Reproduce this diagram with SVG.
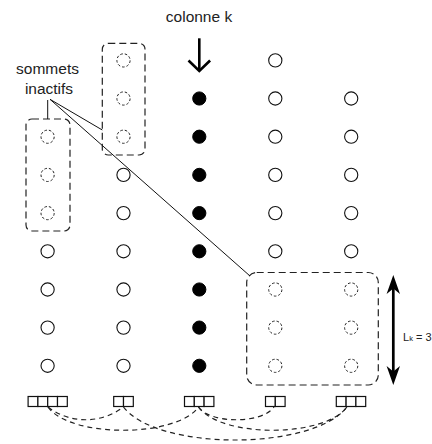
<svg xmlns="http://www.w3.org/2000/svg" width="432" height="444" viewBox="0 0 432 444">
<style>
text{font-family:"Liberation Sans",Arial,sans-serif;fill:#222}
.lbl{font-size:15.5px;text-anchor:middle}
.v{fill:#fff;stroke:#111;stroke-width:1.1}
.a{fill:#000;stroke:#000;stroke-width:1}
.i{fill:none;stroke:#222;stroke-width:1;stroke-dasharray:2.6 2}
.box{fill:none;stroke:#222;stroke-width:1.2;stroke-dasharray:7 4}
.cell{fill:#fff;stroke:#111;stroke-width:1.2}
.arc{fill:none;stroke:#222;stroke-width:1.2;stroke-dasharray:5 4}
.lead{fill:none;stroke:#111;stroke-width:1}
</style>
<defs>
<circle id="cv" r="6.6"/>
</defs>
<g id="labels">
<text class="lbl" x="199" y="21.7">colonne k</text>
<text class="lbl" x="47.5" y="74">sommets</text>
<text class="lbl" x="49" y="94">inactifs</text>
<text x="403" y="340.5" style="font-size:11px">L<tspan style="font-size:7.5px">k</tspan> = 3</text>
</g>
<g id="arrow-colonne-k" fill="none" stroke="#000" stroke-width="2.6">
<line x1="199.3" y1="38.3" x2="199.3" y2="70"/>
<polyline points="188.5,60.5 199.3,71 210.1,60.5"/>
</g>
<g id="arrow-Lk">
<line x1="393.3" y1="286" x2="393.3" y2="374" stroke="#000" stroke-width="2.7"/>
<polygon points="393.3,275 400,294 393.3,288.5 386.6,294" fill="#000"/>
<polygon points="393.3,385 400,366 393.3,371.5 386.6,366" fill="#000"/>
</g>
<g id="boxes">
<rect id="box-col2" class="box" x="102.3" y="43.3" width="42.7" height="111.7" rx="6"/>
<rect id="box-col1" class="box" x="26" y="119" width="44" height="112" rx="6"/>
<rect id="box-right" class="box" x="246.7" y="272.5" width="131.6" height="112.5" rx="10"/>
</g>
<g id="connectors">
<line class="lead" x1="50" y1="99.3" x2="102.3" y2="130"/>
<line class="lead" x1="50" y1="99.3" x2="250" y2="276"/>
<line class="lead" x1="47.7" y1="100" x2="47.7" y2="119"/>
<path class="arc" d="M48,407 C70,424 101,424 123.5,407"/>
<path class="arc" d="M48,407 C70,438 176,438 198.5,407"/>
<path class="arc" d="M123.5,407 C157,451 313,451 347,407"/>
<path class="arc" d="M198.5,407 C210,424 262,424 274,407"/>
<path class="arc" d="M198.5,407 C221,438 324,438 347,407"/>
</g>
<g id="col1">
<g id="c1r3"><use href="#cv" class="i" x="47.6" y="136.7"/></g>
<g id="c1r4"><use href="#cv" class="i" x="47.6" y="174.9"/></g>
<g id="c1r5"><use href="#cv" class="i" x="47.6" y="213.1"/></g>
<g id="c1r6"><use href="#cv" class="v" x="47.6" y="251.3"/></g>
<g id="c1r7"><use href="#cv" class="v" x="47.6" y="289.5"/></g>
<g id="c1r8"><use href="#cv" class="v" x="47.6" y="327.6"/></g>
<g id="c1r9"><use href="#cv" class="v" x="47.6" y="365.8"/></g>
</g>
<g id="col2">
<g id="c2r1"><use href="#cv" class="i" x="123.5" y="60.4"/></g>
<g id="c2r2"><use href="#cv" class="i" x="123.5" y="98.5"/></g>
<g id="c2r3"><use href="#cv" class="i" x="123.5" y="136.7"/></g>
<g id="c2r4"><use href="#cv" class="v" x="123.5" y="174.9"/></g>
<g id="c2r5"><use href="#cv" class="v" x="123.5" y="213.1"/></g>
<g id="c2r6"><use href="#cv" class="v" x="123.5" y="251.3"/></g>
<g id="c2r7"><use href="#cv" class="v" x="123.5" y="289.5"/></g>
<g id="c2r8"><use href="#cv" class="v" x="123.5" y="327.6"/></g>
<g id="c2r9"><use href="#cv" class="v" x="123.5" y="365.8"/></g>
</g>
<g id="col3">
<g id="c3r2"><use href="#cv" class="a" x="199.3" y="98.5"/></g>
<g id="c3r3"><use href="#cv" class="a" x="199.3" y="136.7"/></g>
<g id="c3r4"><use href="#cv" class="a" x="199.3" y="174.9"/></g>
<g id="c3r5"><use href="#cv" class="a" x="199.3" y="213.1"/></g>
<g id="c3r6"><use href="#cv" class="a" x="199.3" y="251.3"/></g>
<g id="c3r7"><use href="#cv" class="a" x="199.3" y="289.5"/></g>
<g id="c3r8"><use href="#cv" class="a" x="199.3" y="327.6"/></g>
<g id="c3r9"><use href="#cv" class="a" x="199.3" y="365.8"/></g>
</g>
<g id="col4">
<g id="c4r1"><use href="#cv" class="v" x="275.3" y="60.4"/></g>
<g id="c4r2"><use href="#cv" class="v" x="275.3" y="98.5"/></g>
<g id="c4r3"><use href="#cv" class="v" x="275.3" y="136.7"/></g>
<g id="c4r4"><use href="#cv" class="v" x="275.3" y="174.9"/></g>
<g id="c4r5"><use href="#cv" class="v" x="275.3" y="213.1"/></g>
<g id="c4r6"><use href="#cv" class="v" x="275.3" y="251.3"/></g>
<g id="c4r7"><use href="#cv" class="i" x="275.3" y="289.5"/></g>
<g id="c4r8"><use href="#cv" class="i" x="275.3" y="327.6"/></g>
<g id="c4r9"><use href="#cv" class="i" x="275.3" y="365.8"/></g>
</g>
<g id="col5">
<g id="c5r2"><use href="#cv" class="v" x="351.2" y="98.5"/></g>
<g id="c5r3"><use href="#cv" class="v" x="351.2" y="136.7"/></g>
<g id="c5r4"><use href="#cv" class="v" x="351.2" y="174.9"/></g>
<g id="c5r5"><use href="#cv" class="v" x="351.2" y="213.1"/></g>
<g id="c5r6"><use href="#cv" class="v" x="351.2" y="251.3"/></g>
<g id="c5r7"><use href="#cv" class="i" x="351.2" y="289.5"/></g>
<g id="c5r8"><use href="#cv" class="i" x="351.2" y="327.6"/></g>
<g id="c5r9"><use href="#cv" class="i" x="351.2" y="365.8"/></g>
</g>
<g id="list1">
<rect class="cell" x="28.1" y="396.5" width="9.8" height="10"/>
<rect class="cell" x="37.9" y="396.5" width="9.8" height="10"/>
<rect class="cell" x="47.7" y="396.5" width="9.8" height="10"/>
<rect class="cell" x="57.5" y="396.5" width="9.8" height="10"/>
</g>
<g id="list2">
<rect class="cell" x="113.7" y="396.5" width="9.8" height="10"/>
<rect class="cell" x="123.5" y="396.5" width="9.8" height="10"/>
</g>
<g id="list3">
<rect class="cell" x="184.5" y="396.5" width="9.8" height="10"/>
<rect class="cell" x="194.3" y="396.5" width="9.8" height="10"/>
<rect class="cell" x="204.1" y="396.5" width="9.8" height="10"/>
</g>
<g id="list4">
<rect class="cell" x="265.5" y="396.5" width="9.8" height="10"/>
<rect class="cell" x="275.3" y="396.5" width="9.8" height="10"/>
</g>
<g id="list5">
<rect class="cell" x="336.3" y="396.5" width="9.8" height="10"/>
<rect class="cell" x="346.1" y="396.5" width="9.8" height="10"/>
<rect class="cell" x="355.9" y="396.5" width="9.8" height="10"/>
</g>
</svg>
